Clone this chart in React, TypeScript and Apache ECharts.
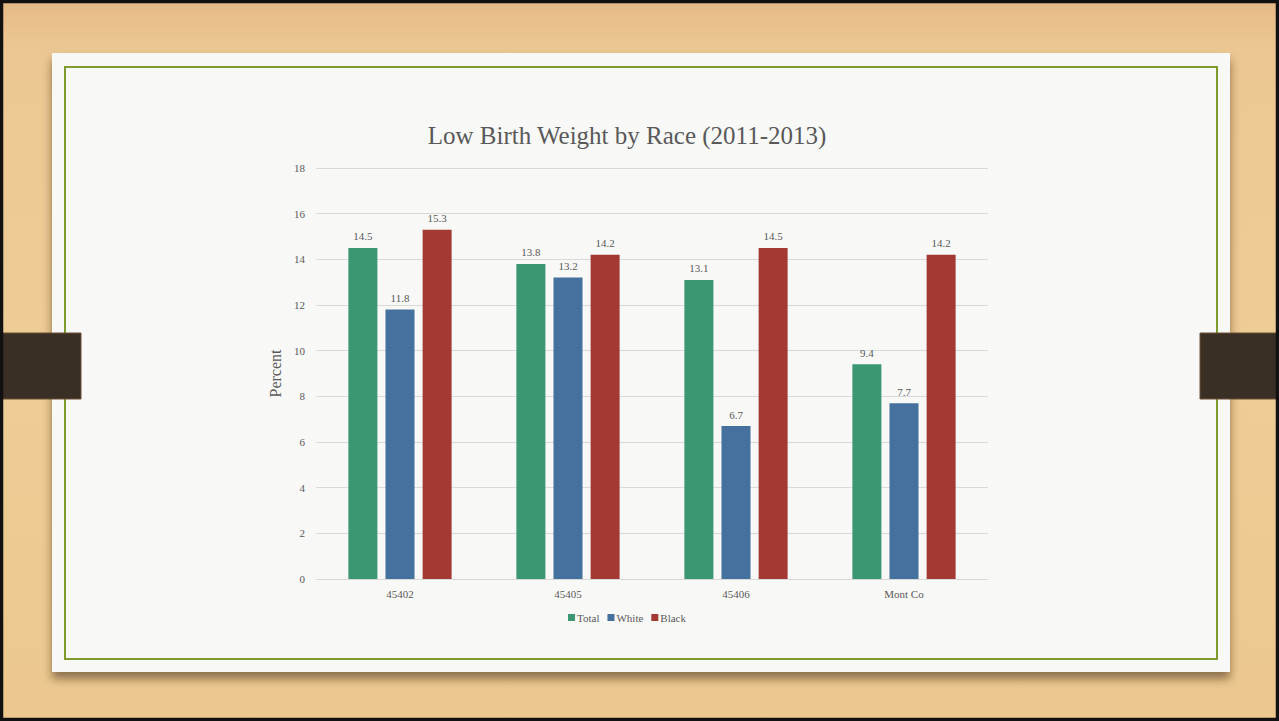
import React, { useEffect, useRef } from "react";
import * as echarts from "echarts";

const categories = ["45402", "45405", "45406", "Mont Co"];
const totalValues = [14.5, 13.8, 13.1, 9.4];
const whiteValues = [11.8, 13.2, 6.7, 7.7];
const blackValues = [15.3, 14.2, 14.5, 14.2];
const seriesNames = ["Total", "White", "Black"];
const seriesColors = ["#3B9672", "#46709E", "#A23A33"];

const FONT = "'Liberation Serif', 'Times New Roman', serif";
const TXT = "#595959";

export default function App() {
  const ref = useRef<HTMLDivElement>(null);
  useEffect(() => {
    if (!ref.current) return;
    const chart = echarts.init(ref.current, null, { renderer: "svg" });
    const data = [totalValues, whiteValues, blackValues];
    chart.setOption({
      animation: false,
      textStyle: { fontFamily: FONT },
      graphic: [
        {
          type: "rect",
          z: -10,
          silent: true,
          shape: { x: 0, y: 0, width: 1279, height: 721 },
          style: {
            fill: new echarts.graphic.LinearGradient(0, 0, 0, 1, [
              { offset: 0, color: "#E6B985" },
              { offset: 0.07, color: "#ECC793" },
              { offset: 0.5, color: "#EECC95" },
              { offset: 1, color: "#ECC88F" },
            ]),
          },
        },
        {
          type: "rect",
          z: -9,
          silent: true,
          shape: { x: 52, y: 53, width: 1178, height: 619 },
          style: {
            fill: "#F8F8F7",
            shadowBlur: 10,
            shadowOffsetY: 7,
            shadowOffsetX: 0,
            shadowColor: "rgba(60,40,20,0.55)",
          },
        },
        {
          type: "rect",
          z: -8,
          silent: true,
          shape: { x: 65, y: 67, width: 1152, height: 592 },
          style: { fill: "none", stroke: "#7E9B2C", lineWidth: 2 },
        },
        {
          type: "rect",
          z: -7,
          silent: true,
          shape: { x: 0, y: 333, width: 81, height: 66 },
          style: { fill: "#3A2F25", stroke: "#6A5038", lineWidth: 1 },
        },
        {
          type: "rect",
          z: -7,
          silent: true,
          shape: { x: 1200, y: 333, width: 79, height: 66 },
          style: { fill: "#3A2F25", stroke: "#6A5038", lineWidth: 1 },
        },
        {
          type: "rect",
          z: -6,
          silent: true,
          shape: { x: 1.5, y: 1.5, width: 1276, height: 718 },
          style: { fill: "none", stroke: "#111", lineWidth: 3.5 },
        },
      ],
      title: {
        text: "Low Birth Weight by Race (2011-2013)",
        left: 622,
        top: 118,
        textAlign: "center",
        textStyle: {
          fontFamily: FONT,
          fontSize: 25,
          fontWeight: "normal",
          color: TXT,
        },
      },
      legend: {
        data: seriesNames,
        left: 563,
        top: 607,
        itemWidth: 7,
        itemHeight: 7,
        itemGap: 8,
        icon: "rect",
        textStyle: { fontFamily: FONT, fontSize: 11, color: TXT, padding: [0, 0, 0, -3] },
      },
      grid: { left: 316, right: 291, top: 168, bottom: 142, containLabel: false },
      xAxis: {
        type: "category",
        data: categories,
        axisLine: { lineStyle: { color: "#D9D9D9" } },
        axisTick: { show: false },
        axisLabel: { fontFamily: FONT, fontSize: 11, color: TXT, margin: 9 },
      },
      yAxis: {
        type: "value",
        min: 0,
        max: 18,
        interval: 2,
        name: "Percent",
        nameLocation: "middle",
        nameGap: 26,
        nameTextStyle: { fontFamily: FONT, fontSize: 16, color: TXT },
        axisLine: { show: false },
        axisTick: { show: false },
        splitLine: { lineStyle: { color: "#D9D9D9" } },
        axisLabel: { fontFamily: FONT, fontSize: 11, color: TXT, margin: 11 },
      },
      series: seriesNames.map((name, i) => ({
        name,
        type: "bar",
        data: data[i],
        barWidth: 29,
        barGap: "28%",
        itemStyle: { color: seriesColors[i] },
        label: {
          show: true,
          position: "top",
          distance: 6,
          fontFamily: FONT,
          fontSize: 11,
          color: TXT,
        },
      })),
    });
    return () => chart.dispose();
  }, []);
  return (
    <div
      ref={ref}
      style={{ position: "absolute", left: 0, top: 0, width: 1279, height: 721 }}
    />
  );
}
